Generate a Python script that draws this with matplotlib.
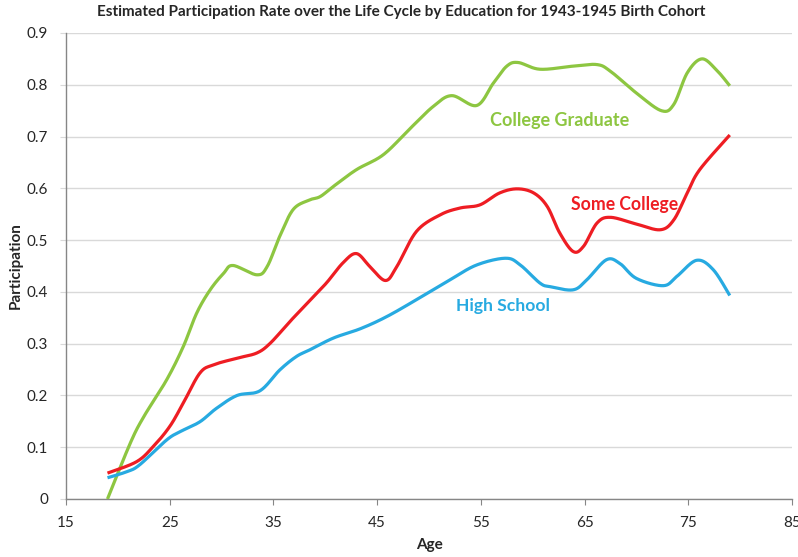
import numpy as np
import matplotlib
matplotlib.use("Agg")
import matplotlib.pyplot as plt

plt.rcParams['font.family'] = ['Lato', 'DejaVu Sans']

title = "Estimated Participation Rate over the Life Cycle by Education for 1943-1945 Birth Cohort"
x_label = "Age"
y_label = "Participation"
x_ticks = [15, 25, 35, 45, 55, 65, 75, 85]
y_ticks = [0, 0.1, 0.2, 0.3, 0.4, 0.5, 0.6, 0.7, 0.8, 0.9]
y_tick_labels = ["0", "0.1", "0.2", "0.3", "0.4", "0.5", "0.6", "0.7", "0.8", "0.9"]

college_age = [19, 21.2, 22.5, 24.7, 26.3, 27.6, 28.9, 30.2, 31.1, 33.4, 34.4, 35.6, 36.9,
               38.4, 39.5, 40.8, 43.0, 45.6, 48.2, 50.4, 52.2, 54.6, 56.2, 57.5, 58.6, 60.7,
               63.9, 66.2, 67.5, 70.0, 72.4, 73.6, 74.9, 76.3, 77.7, 79]
college_val = [0.0, 0.108, 0.159, 0.230, 0.294, 0.359, 0.404, 0.436, 0.451, 0.433, 0.449, 0.507,
               0.559, 0.577, 0.584, 0.604, 0.636, 0.665, 0.716, 0.758, 0.779, 0.760, 0.803, 0.836,
               0.843, 0.830, 0.836, 0.839, 0.826, 0.784, 0.750, 0.762, 0.823, 0.850, 0.829, 0.798]

some_age = [19, 21.8, 23.4, 25.0, 26.3, 27.9, 29.2, 31.5, 33.4, 34.7, 36.6, 38.4, 40.1, 41.7,
            43.0, 44.3, 45.8, 46.9, 48.8, 51.1, 53.0, 54.9, 56.8, 58.5, 60.1, 61.4, 62.6, 63.9,
            64.9, 66.2, 67.5, 70.0, 72.3, 73.6, 74.9, 76.1, 79]
some_val = [0.050, 0.072, 0.101, 0.140, 0.185, 0.243, 0.259, 0.272, 0.282, 0.301, 0.343, 0.381,
            0.417, 0.456, 0.474, 0.449, 0.422, 0.449, 0.517, 0.549, 0.562, 0.568, 0.591, 0.599,
            0.591, 0.565, 0.514, 0.478, 0.488, 0.533, 0.544, 0.531, 0.520, 0.539, 0.591, 0.636, 0.703]

high_age = [19, 20.9, 22.1, 24.7, 26.0, 27.9, 29.5, 31.5, 33.7, 35.6, 37.2, 38.5, 40.8, 43.4,
            45.9, 48.8, 52.0, 54.6, 57.4, 58.8, 60.7, 61.7, 63.9, 65.2, 67.1, 68.4, 70.0, 72.6,
            73.9, 75.8, 77.4, 79]
high_val = [0.041, 0.053, 0.066, 0.114, 0.130, 0.149, 0.175, 0.200, 0.209, 0.249, 0.275, 0.288,
            0.311, 0.329, 0.352, 0.385, 0.423, 0.452, 0.465, 0.452, 0.417, 0.410, 0.404, 0.423,
            0.462, 0.455, 0.426, 0.412, 0.430, 0.461, 0.443, 0.393]

series = [
    ("College Graduate", college_age, college_val, "#8DC641", (62.6, 0.731), 13),
    ("Some College", some_age, some_val, "#EE1D23", (68.9, 0.569), 12.7),
    ("High School", high_age, high_val, "#27AAE1", (57.1, 0.372), 12.6),
]


def smooth(xs, ys, n=30):
    """Excel-like smoothed line: cubic Bezier with Catmull-Rom tangents."""
    P = np.column_stack([xs, ys]).astype(float)
    sx, sy = 1.0 / 70.0, 1.0 / 0.9 * (466.0 / 726.0)
    Q = P * [sx, sy]
    out = []
    m = len(Q)
    for i in range(m - 1):
        p0 = Q[i - 1] if i > 0 else Q[i]
        p1 = Q[i]
        p2 = Q[i + 1]
        p3 = Q[i + 2] if i + 2 < m else Q[i + 1]
        c1 = p1 + (p2 - p0) / 6.0
        c2 = p2 - (p3 - p1) / 6.0
        t = np.linspace(0, 1, n, endpoint=(i == m - 2))[:, None]
        seg = ((1 - t) ** 3) * p1 + 3 * ((1 - t) ** 2) * t * c1 + 3 * (1 - t) * t ** 2 * c2 + t ** 3 * p2
        out.append(seg)
    R = np.vstack(out) / [sx, sy]
    return R[:, 0], R[:, 1]


fig = plt.figure(figsize=(7.98, 5.57), dpi=100)
ax = fig.add_axes([66 / 798, 58 / 557, 726 / 798, 466 / 557])

for name, xs, ys, col, (lx, ly), fs in series:
    sxv, syv = smooth(xs, ys)
    ax.plot(sxv, syv, color=col, lw=2.3, solid_capstyle='butt', zorder=3)
    ax.text(lx, ly, name, color=col, fontsize=fs, fontweight='bold', ha='center', va='center')

ax.set_xlim(15, 85)
ax.set_ylim(0, 0.9)
ax.set_xticks(x_ticks)
ax.set_yticks(y_ticks)
ax.set_yticklabels(y_tick_labels)
ax.grid(axis='y', color='#D9D9D9', lw=1.0, zorder=0)
ax.set_axisbelow(True)
for s in ['top', 'right']:
    ax.spines[s].set_visible(False)
for s in ['left', 'bottom']:
    ax.spines[s].set_color('#868686')
    ax.spines[s].set_linewidth(1.0)
ax.tick_params(axis='x', direction='out', length=4, color='#868686', labelsize=11, pad=8, labelcolor='#262626')
ax.tick_params(axis='y', direction='out', length=4, color='#D9D9D9', labelsize=11, pad=9, labelcolor='#262626')

fig.text(401 / 798, 1 - 12 / 557, title, ha='center', va='center', fontsize=11,
         fontweight='bold', color='#262626')
fig.text(429 / 798, 1 - 545 / 557, x_label, ha='center', va='center', fontsize=11, fontweight='bold',
         color='#262626')
fig.text(16 / 798, 1 - 266 / 557, y_label, ha='center', va='center', rotation=90, fontsize=11,
         fontweight='bold', color='#262626')

fig.savefig("out.png", dpi=100)
